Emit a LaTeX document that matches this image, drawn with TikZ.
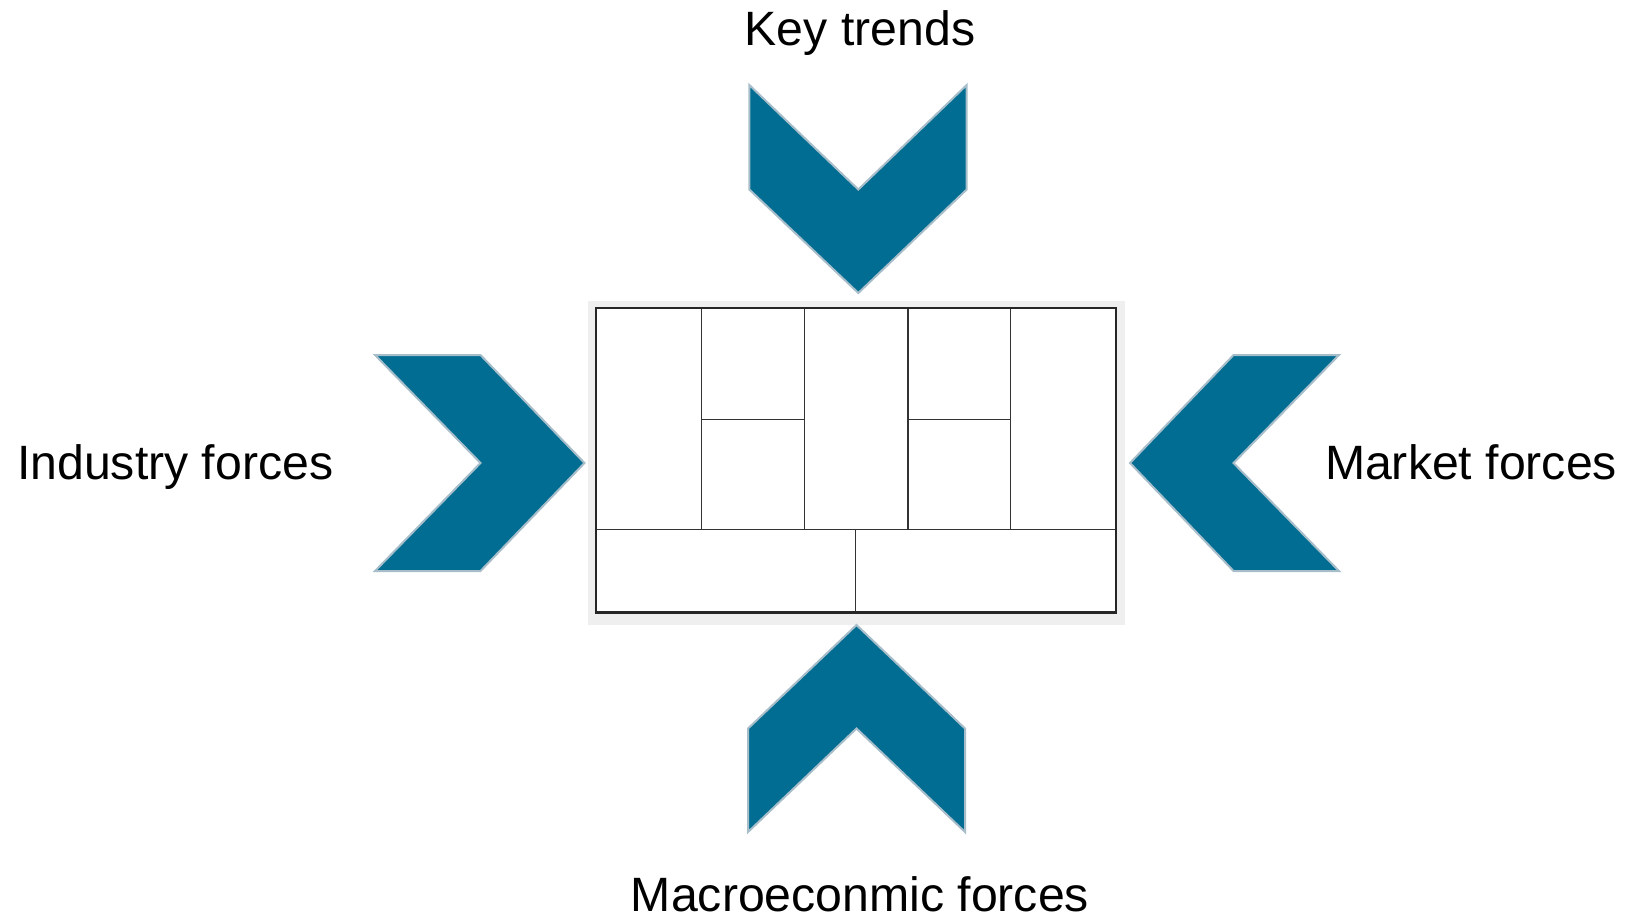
\documentclass[tikz,border=0pt]{standalone}
\usepackage{fontspec}
\setmainfont{Liberation Sans}
\begin{document}
\begin{tikzpicture}[x=1pt,y=-1pt,
  chevron/.style={fill=chevblue,draw=chevedge,line width=2pt,line join=miter},
  label/.style={anchor=base,inner sep=0pt,font=\fontsize{48.2}{58}\selectfont},
  cell/.style={draw=gridline,line width=1.3pt},
]
\definecolor{chevblue}{HTML}{026D92}
\definecolor{chevedge}{HTML}{A7BECA}
\definecolor{gridline}{HTML}{333333}
\definecolor{canvasbg}{HTML}{EFEFEF}
\useasboundingbox (0,0) rectangle (1625,917);

% canvas with its grey mat
\fill[canvasbg] (587.6,300.6) rectangle (1124.5,625);
\fill[white] (596,308) rectangle (1116,612.5);
% upper row of columns
\draw[cell] (701.6,308) -- (701.6,529.6);
\draw[cell] (804.3,308) -- (804.3,529.6);
\draw[cell] (907.9,308) -- (907.9,529.6);
\draw[cell] (1010.5,308) -- (1010.5,529.6);
\draw[cell] (701.6,419.7) -- (804.3,419.7);
\draw[cell] (907.9,419.7) -- (1010.5,419.7);
% bottom row
\draw[cell] (596,529.6) -- (1116,529.6);
\draw[cell] (855.5,529.6) -- (855.5,612.5);
\draw[draw=black!85,line width=2.6pt] (596,308) rectangle (1116,612.5);

% chevrons pointing at the canvas
\draw[chevron] (749.3,85) -- (858.3,189.5) -- (966.7,85) -- (966.7,189.5) -- (858.3,293) -- (749.3,189.5) -- cycle;
\draw[chevron] (375,355) -- (480.5,355) -- (584.5,463) -- (480.5,571) -- (375,571) -- (480.5,463) -- cycle;
\draw[chevron] (1339,355) -- (1233.5,355) -- (1130,463) -- (1233.5,571) -- (1339,571) -- (1233.5,463) -- cycle;
\draw[chevron] (748,832) -- (748,728.5) -- (856.5,625) -- (965,728.5) -- (965,832) -- (856.5,728.5) -- cycle;

% labels
\node[label] (trends) at (860,45.5) {Key trends};
\node[label] (industry) at (175.2,479) {Industry forces};
\node[label] (market) at (1471,479) {Market forces};
\node[label] (macro) at (860,911) {Macroeconmic forces};
\end{tikzpicture}
\end{document}
